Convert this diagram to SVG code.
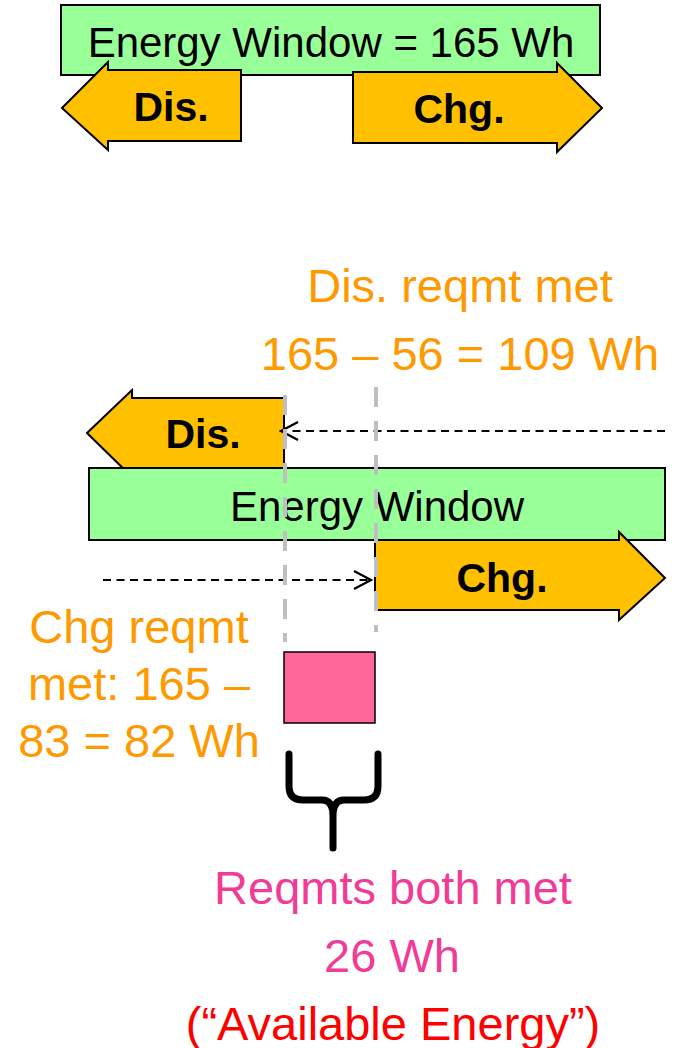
<svg xmlns="http://www.w3.org/2000/svg" width="673" height="1048" viewBox="0 0 673 1048">
<style>
.win{fill:#99FF99;stroke:#000;stroke-width:2}
.arr{fill:#FFC000;stroke:#000;stroke-width:2}
.t{font-family:"Liberation Sans",Arial,sans-serif;text-anchor:middle}
.b{font-weight:bold;font-size:41px;fill:#000}
.n{font-size:42px;fill:#000}
.o{font-size:47px;fill:#FF9900}
.p{font-size:47px;fill:#F03C96}
.r{font-size:47px;fill:#FF0000}
.dash{stroke:#000;stroke-width:2.2;stroke-dasharray:8,5.5;fill:none}
.gray{stroke:#BFBFBF;stroke-width:4;stroke-dasharray:20,14;fill:none}
</style>
<defs>
<marker id="open" markerWidth="20" markerHeight="22" refX="18" refY="11" orient="auto" markerUnits="userSpaceOnUse">
<path d="M1,2 L18,11 L1,20" fill="none" stroke="#000" stroke-width="2.2"/>
</marker>
</defs>
<g id="top-window"><rect class="win" x="61" y="5" width="539" height="70"/><text class="t n" x="331" y="57">Energy Window = 165 Wh</text></g>
<g id="top-dis"><polygon class="arr" points="62,108 108,62 108,70 241,70 241,141 108,141 108,150"/><text class="t b" x="171" y="121">Dis.</text></g>
<g id="top-chg"><polygon class="arr" points="353,72 557,72 557,63 602,108 557,152 557,143 353,143"/><text class="t b" x="459" y="123">Chg.</text></g>
<g id="dis-label"><text class="t o" x="460" y="302">Dis. reqmt met</text><text class="t o" x="460" y="370">165 – 56 = 109 Wh</text></g>
<g id="dis2"><polygon class="arr" points="87,433 132,390 132,398 284,398 284,468 132,468 132,477"/><text class="t b" x="203" y="448">Dis.</text></g>
<g id="window2"><rect class="win" x="89" y="468" width="576" height="72"/><text class="t n" x="377" y="521">Energy Window</text></g>
<g id="chg2"><polygon class="arr" points="375,540 619,540 619,532 665,578 619,620 619,610 375,610"/><text class="t b" x="502" y="592">Chg.</text></g>
<g id="connectors">
<line class="dash" x1="665" y1="431" x2="281" y2="431" marker-end="url(#open)"/>
<line class="dash" x1="103" y1="580" x2="371" y2="580" marker-end="url(#open)"/>
<line class="gray" x1="285" y1="395" x2="285" y2="642"/>
<line class="gray" x1="376" y1="387" x2="376" y2="632"/>
</g>
<g id="chg-label"><text class="t o" x="139" y="643">Chg reqmt</text><text class="t o" x="139" y="700">met: 165 –</text><text class="t o" x="139" y="757">83 = 82 Wh</text></g>
<g id="overlap"><rect x="284" y="652" width="91" height="71" fill="#FF6699" stroke="#000" stroke-width="1.5"/></g>
<g id="brace"><path d="M289,754 L289,786 Q289,800 303,800 L322,800 Q333,800 333,816 L333,848 M333,848 L333,816 Q333,800 344,800 L364,800 Q378,800 378,786 L378,754" fill="none" stroke="#000" stroke-width="7" stroke-linecap="round" stroke-linejoin="round"/></g>
<g id="both-label"><text class="t p" x="393" y="904">Reqmts both met</text><text class="t p" x="392" y="972">26 Wh</text><text class="t r" x="393" y="1040">(“Available Energy”)</text></g>
</svg>
